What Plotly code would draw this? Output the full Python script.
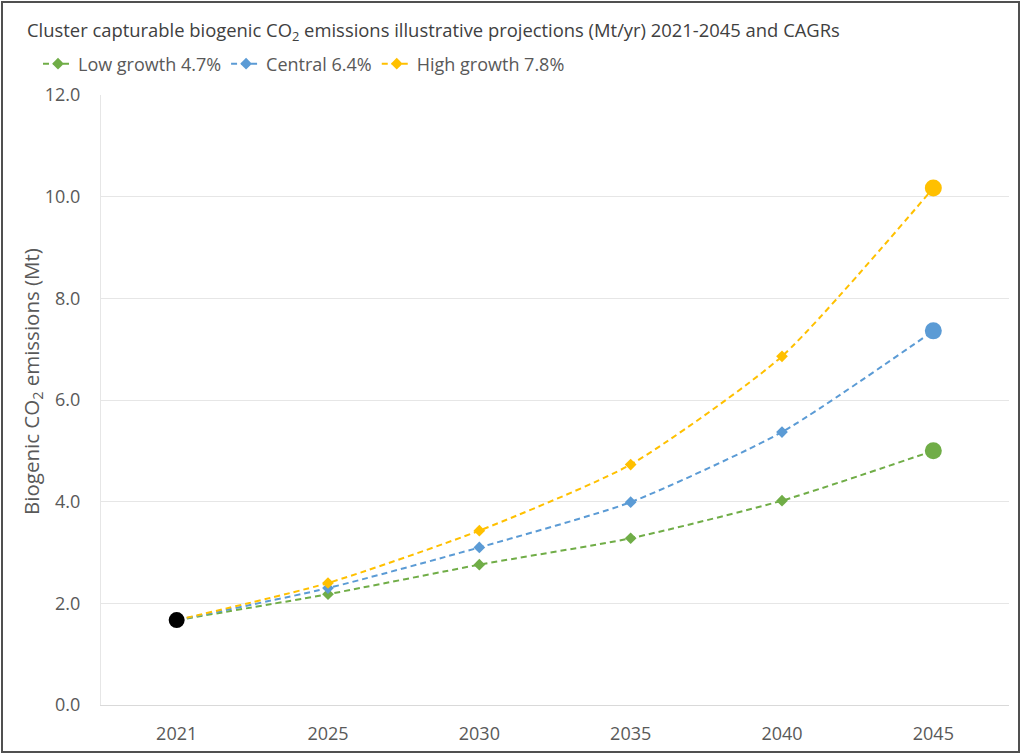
import plotly.graph_objects as go

W, H = 1021, 754
ML, MR, MT, MB = 101, 12, 95, 49
PW, PH = W - ML - MR, H - MT - MB

years = ["2021", "2025", "2030", "2035", "2040", "2045"]
base_2021 = 1.67
low_growth = [1.67, 2.18, 2.76, 3.28, 4.02, 5.00]
central = [1.67, 2.30, 3.10, 3.99, 5.37, 7.36]
high_growth = [1.67, 2.40, 3.43, 4.73, 6.86, 10.17]

series_names = ["Low growth 4.7%", "Central 6.4%", "High growth 7.8%"]
series_values = [low_growth, central, high_growth]
series_colors = ["#70AD47", "#5B9BD5", "#FFC000"]

y_ticks = [0, 2, 4, 6, 8, 10, 12]

FONT = "Open Sans"
TXT = "#595959"

fig = go.Figure()

for name, vals, col in zip(series_names, series_values, series_colors):
    fig.add_trace(go.Scatter(
        x=years, y=vals, name=name, mode="lines+markers",
        line=dict(color=col, width=2, dash="6px,4px", shape="spline", smoothing=0.6),
        marker=dict(symbol="diamond", size=9, color=col),
        showlegend=True,
    ))

for name, vals, col in zip(series_names, series_values, series_colors):
    fig.add_trace(go.Scatter(
        x=[years[-1]], y=[vals[-1]], mode="markers",
        marker=dict(symbol="circle", size=17, color=col),
        showlegend=False, hoverinfo="skip",
    ))

fig.add_trace(go.Scatter(
    x=[years[0]], y=[base_2021], mode="markers",
    marker=dict(symbol="circle", size=16, color="#000000"),
    showlegend=False,
))

# outer frame around the whole figure
fx0 = -(ML - 2) / PW
fx1 = 1 + (MR - 2) / PW
fy0 = -(MB - 2) / PH
fy1 = 1 + (MT - 2) / PH
fig.add_shape(type="rect", xref="paper", yref="paper",
              x0=fx0, x1=fx1, y0=fy0, y1=fy1,
              line=dict(color="#505050", width=2), layer="above")

# vertical axis title
fig.add_annotation(
    text="Biogenic CO<sub>2</sub> emissions (Mt)",
    xref="paper", yref="paper",
    x=(32 - ML) / PW, y=(H - MB - 382) / PH,
    xanchor="center", yanchor="middle", textangle=-90,
    showarrow=False, font=dict(family=FONT, size=20.5, color=TXT),
)

fig.update_layout(
    width=W, height=H,
    margin=dict(l=ML, r=MR, t=MT, b=MB, autoexpand=False),
    paper_bgcolor="white", plot_bgcolor="white",
    font=dict(family=FONT, size=18, color=TXT),
    title=dict(
        text="Cluster capturable biogenic CO<sub>2</sub> emissions illustrative projections (Mt/yr) 2021-2045 and CAGRs",
        x=27 / W, xref="container", xanchor="left",
        y=1 - 31 / H, yref="container", yanchor="middle",
        font=dict(family=FONT, size=18.4, color="#404040"),
    ),
    legend=dict(
        orientation="h", x=38 / W, xref="container", xanchor="left",
        y=1 - 64 / H, yref="container", yanchor="middle",
        font=dict(family=FONT, size=18, color=TXT),
        itemwidth=30, tracegroupgap=0,
        bgcolor="rgba(0,0,0,0)",
    ),
    xaxis=dict(
        type="category", showgrid=False, showline=True,
        linecolor="#d9d9d9", linewidth=1, ticks="",
        ticklabelstandoff=12,
        tickfont=dict(family=FONT, size=18, color=TXT),
        range=[-0.5, 5.5],
    ),
    yaxis=dict(
        range=[0, 12], tickvals=y_ticks, tickformat=".1f",
        showgrid=True, gridcolor="#e6e6e6", gridwidth=1,
        showline=True, linecolor="#e6e6e6", linewidth=1,
        zeroline=False, ticks="", ticklabelstandoff=16,
        tickfont=dict(family=FONT, size=18, color=TXT),
    ),
)

fig.write_html("out.html")
